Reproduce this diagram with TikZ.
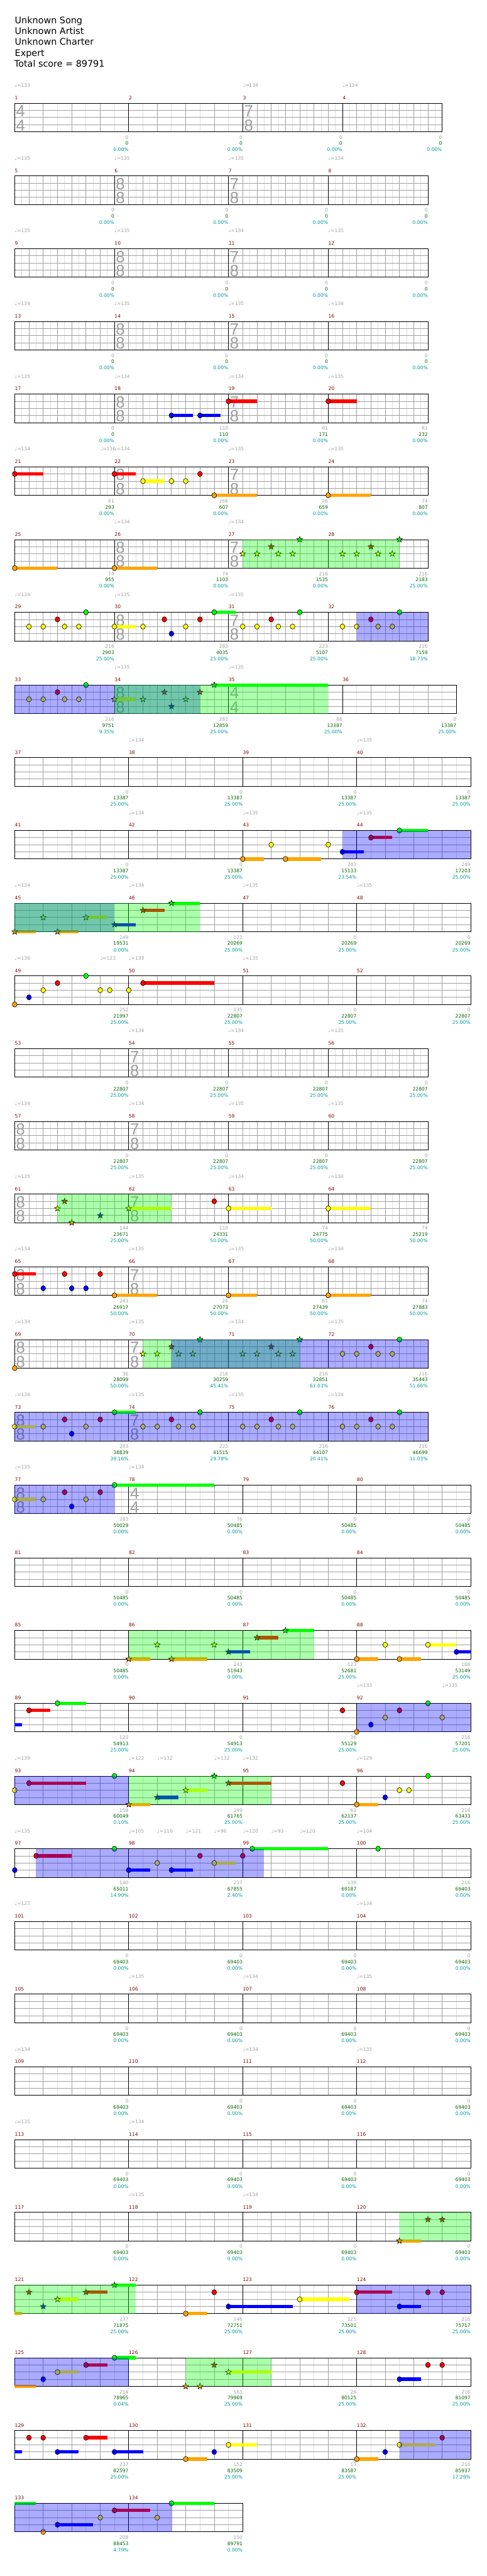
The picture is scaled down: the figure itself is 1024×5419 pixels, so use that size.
\documentclass[tikz,border=0pt]{standalone}
\usepackage{fontspec}
\setmainfont{DejaVu Sans}
\newfontfamily\sigfont{Liberation Sans}
\definecolor{numred}{RGB}{128,0,0}
\definecolor{scgray}{RGB}{160,160,160}
\definecolor{scgreen}{RGB}{0,100,0}
\definecolor{scteal}{RGB}{0,153,153}
\definecolor{gridgray}{RGB}{160,160,160}
\definecolor{gridlight}{RGB}{222,222,222}
\definecolor{gnote}{RGB}{0,255,0}
\definecolor{rnote}{RGB}{255,0,0}
\definecolor{ynote}{RGB}{255,255,0}
\definecolor{bnote}{RGB}{0,0,255}
\definecolor{onote}{RGB}{255,165,0}
\tikzset{
  gridsub/.style={draw=gridlight, line width=0.5pt},
  gridbeat/.style={draw=gridgray, line width=0.5pt},
  staffline/.style={draw=black, line width=0.5pt},
  mnum/.style={anchor=base west, inner sep=0pt, text=numred, font=\fontsize{5}{6}\selectfont},
  scoretxt/.style={anchor=base east, inner sep=0pt, font=\fontsize{5}{6}\selectfont},
  tempotxt/.style={anchor=base west, inner sep=0pt, text=scgray, font=\fontsize{5}{6}\selectfont},
  tsnum/.style={inner sep=0pt, text=gridgray, font=\sigfont\fontsize{17}{17}\selectfont},
  titletxt/.style={anchor=base west, inner sep=0pt, font=\fontsize{9.5}{10}\selectfont},
  gemline/.style={draw=black, line width=0.4pt},
  spgreen/.style={fill=green, fill opacity=0.33},
  spblue/.style={fill=blue, fill opacity=0.33}
}
% one measure: x, width, beat, number, score, total, percent
\newcommand\msr[7]{%
  \pgfmathtruncatemacro\nb{#2/#3}\pgfmathtruncatemacro\nbm{\nb-1}%
  \foreach \j in {1,...,\nb} \draw[gridsub] ({#1+(\j-0.5)*#3},\Y) -- ++(0,60);
  \foreach \j in {1,...,\nbm} \draw[gridbeat] ({#1+\j*#3},\Y) -- ++(0,60);
  \foreach \k in {15,30,45} \draw[gridbeat] (#1,\Y+\k) -- ++(#2,0);
  \draw[staffline] (#1,\Y) rectangle ++(#2,60);
  \node[mnum] at (#1,\Y-7.5) {#4};
  \node[scoretxt, text=scgray] at (#1+#2,\Y+75.6) {#5};
  \node[scoretxt, text=scgreen] at (#1+#2,\Y+88.4) {#6};
  \node[scoretxt, text=scteal] at (#1+#2,\Y+101.7) {#7\%};
}
\newcommand\tsig[3]{\node[tsnum] at (#1+12.5,\Y+17) {#2};\node[tsnum] at (#1+12.5,\Y+46.5) {#3};}
\newcommand\bpm[2]{\node[tempotxt] at (#1,\Y-33.7) {♩=#2};}
% notes: x, lane (0 green .. 4 orange), colour
\newcommand\tailbar[4]{\fill[#4] (#1,\Y+15*#3-3.5) rectangle (#2,\Y+15*#3+3.5);}
\newcommand\gem[3]{\filldraw[gemline, fill=#3] (#1,\Y+15*#2) ellipse [x radius=5, y radius=5.5];}
\newcommand\gemsus[4]{\tailbar{#1}{#2}{#3}{#4}\gem{#1}{#3}{#4}}
\newcommand\spgem[3]{\filldraw[gemline, fill=#3] (#1,\Y+15*#2) +(270:6.5) -- +(306:2.7) -- +(342:6.5) -- +(18:2.7) -- +(54:6.5) -- +(90:2.7) -- +(126:6.5) -- +(162:2.7) -- +(198:6.5) -- +(234:2.7) -- cycle;}
\newcommand\spgemsus[4]{\tailbar{#1}{#2}{#3}{#4}\spgem{#1}{#3}{#4}}
\newcommand\spg[2]{\fill[spgreen] (#1,\Y) rectangle (#2,\Y+60);}
\newcommand\spb[2]{\fill[spblue] (#1,\Y) rectangle (#2,\Y+60);}
\begin{document}
\begin{tikzpicture}[x=0.5pt, y=-0.5pt]
\fill[white] (0,0) rectangle (1024,5419);
\useasboundingbox (0,0) rectangle (1024,5419);
\node[titletxt] at (31,49) {Unknown Song};
\node[titletxt] at (31,72) {Unknown Artist};
\node[titletxt] at (31,95) {Unknown Charter};
\node[titletxt] at (31,118) {Expert};
\node[titletxt] at (30,141) {Total score = 89791};

% row 1-4
\def\Y{217}
\msr{31}{240}{60}{1}{0}{0}{0.00}
\msr{271}{240}{60}{2}{0}{0}{0.00}
\msr{511}{210}{30}{3}{0}{0}{0.00}
\msr{721}{210}{30}{4}{0}{0}{0.00}
\tsig{31}{4}{4}\tsig{511}{7}{8}
\bpm{31}{133}\bpm{511}{134}\bpm{721}{134}

% row 5-8
\def\Y{370}
\msr{31}{210}{30}{5}{0}{0}{0.00}
\msr{241}{240}{30}{6}{0}{0}{0.00}
\msr{481}{210}{30}{7}{0}{0}{0.00}
\msr{691}{210}{30}{8}{0}{0}{0.00}
\tsig{241}{8}{8}\tsig{481}{7}{8}
\bpm{31}{135}\bpm{241}{135}\bpm{481}{135}\bpm{691}{134}

% row 9-12
\def\Y{523}
\msr{31}{210}{30}{9}{0}{0}{0.00}
\msr{241}{240}{30}{10}{0}{0}{0.00}
\msr{481}{210}{30}{11}{0}{0}{0.00}
\msr{691}{210}{30}{12}{0}{0}{0.00}
\tsig{241}{8}{8}\tsig{481}{7}{8}
\bpm{31}{135}\bpm{241}{135}\bpm{481}{134}\bpm{691}{135}

% row 13-16
\def\Y{676}
\msr{31}{210}{30}{13}{0}{0}{0.00}
\msr{241}{240}{30}{14}{0}{0}{0.00}
\msr{481}{210}{30}{15}{0}{0}{0.00}
\msr{691}{210}{30}{16}{0}{0}{0.00}
\tsig{241}{8}{8}\tsig{481}{7}{8}
\bpm{31}{134}\bpm{241}{135}\bpm{481}{135}\bpm{691}{134}

% row 17-20
\def\Y{829}
\msr{31}{210}{30}{17}{0}{0}{0.00}
\msr{241}{240}{30}{18}{110}{110}{0.00}
\msr{481}{210}{30}{19}{61}{171}{0.00}
\msr{691}{210}{30}{20}{61}{232}{0.00}
\tsig{241}{8}{8}\tsig{481}{7}{8}
\bpm{31}{135}\bpm{241}{134}\bpm{481}{134}\bpm{691}{135}
\gemsus{361}{406}{3}{bnote}\gemsus{421}{465}{3}{bnote}
\gemsus{481}{541}{1}{rnote}\gemsus{691}{751}{1}{rnote}

% row 21-24
\def\Y{982}
\msr{31}{210}{30}{21}{61}{293}{0.00}
\msr{241}{240}{30}{22}{266}{607}{0.00}
\msr{481}{210}{30}{23}{26}{659}{0.00}
\msr{691}{210}{30}{24}{74}{807}{0.00}
\tsig{241}{8}{8}\tsig{481}{7}{8}
\bpm{31}{134}\bpm{211}{136}\bpm{241}{134}\bpm{481}{135}\bpm{691}{135}
\gemsus{31}{91}{1}{rnote}\gemsus{241}{286}{1}{rnote}
\gemsus{301}{346}{2}{ynote}\gem{361}{2}{ynote}\gem{391}{2}{ynote}\gem{421}{1}{rnote}
\gemsus{451}{541}{4}{onote}\gemsus{691}{781}{4}{onote}

% row 25-28
\def\Y{1135}
\msr{31}{210}{30}{25}{74}{955}{0.00}
\msr{241}{240}{30}{26}{74}{1103}{0.00}
\msr{481}{210}{30}{27}{216}{1535}{0.00}
\msr{691}{210}{30}{28}{216}{2183}{25.00}
\tsig{241}{8}{8}\tsig{481}{7}{8}
\bpm{241}{134}\bpm{481}{134}
\gemsus{31}{121}{4}{onote}\gemsus{241}{331}{4}{onote}
\spgem{511}{2}{ynote}\spgem{541}{2}{ynote}\spgem{571}{1}{rnote}\spgem{586}{2}{ynote}\spgem{616}{2}{ynote}\spgem{631}{0}{gnote}
\spgem{721}{2}{ynote}\spgem{751}{2}{ynote}\spgem{781}{1}{rnote}\spgem{796}{2}{ynote}\spgem{826}{2}{ynote}\spgem{841}{0}{gnote}
\spg{511}{841}

% row 29-32
\def\Y{1288}
\msr{31}{210}{30}{29}{216}{2903}{25.00}
\msr{241}{240}{30}{30}{283}{4035}{25.00}
\msr{481}{210}{30}{31}{223}{5107}{25.00}
\msr{691}{210}{30}{32}{216}{7159}{18.73}
\tsig{241}{8}{8}\tsig{481}{7}{8}
\bpm{31}{134}\bpm{241}{135}\bpm{481}{135}
\gem{61}{2}{ynote}\gem{91}{2}{ynote}\gem{121}{1}{rnote}\gem{136}{2}{ynote}\gem{166}{2}{ynote}\gem{181}{0}{gnote}
\gemsus{241}{286}{2}{ynote}\gem{301}{2}{ynote}\gem{346}{1}{rnote}\gem{361}{3}{bnote}\gem{391}{2}{ynote}\gem{421}{1}{rnote}\gemsus{451}{496}{0}{gnote}
\gem{511}{2}{ynote}\gem{541}{2}{ynote}\gem{571}{1}{rnote}\gem{586}{2}{ynote}\gem{616}{2}{ynote}\gem{631}{0}{gnote}
\gem{721}{2}{ynote}\gem{751}{2}{ynote}\gem{781}{1}{rnote}\gem{796}{2}{ynote}\gem{826}{2}{ynote}\gem{841}{0}{gnote}
\spb{751}{901}

% row 33-36
\def\Y{1441}
\msr{31}{210}{30}{33}{216}{9751}{9.35}
\msr{241}{240}{30}{34}{283}{12859}{25.00}
\msr{481}{240}{60}{35}{88}{13387}{25.00}
\msr{721}{240}{60}{36}{0}{13387}{25.00}
\tsig{241}{8}{8}\tsig{481}{4}{4}
\bpm{241}{135}\bpm{481}{135}
\gem{61}{2}{ynote}\gem{91}{2}{ynote}\gem{121}{1}{rnote}\gem{136}{2}{ynote}\gem{166}{2}{ynote}\gem{181}{0}{gnote}
\spgemsus{241}{286}{2}{ynote}\spgem{301}{2}{ynote}\spgem{346}{1}{rnote}\spgem{361}{3}{bnote}\spgem{391}{2}{ynote}\spgem{421}{1}{rnote}\spgemsus{451}{691}{0}{gnote}
\spb{31}{421}\spg{241}{691}

% row 37-40
\def\Y{1594}
\msr{31}{240}{60}{37}{0}{13387}{25.00}
\msr{271}{240}{60}{38}{0}{13387}{25.00}
\msr{511}{240}{60}{39}{0}{13387}{25.00}
\msr{751}{240}{60}{40}{0}{13387}{25.00}
\bpm{271}{134}\bpm{751}{135}

% row 41-44
\def\Y{1747}
\msr{31}{240}{60}{41}{0}{13387}{25.00}
\msr{271}{240}{60}{42}{0}{13387}{25.00}
\msr{511}{240}{60}{43}{243}{15133}{23.54}
\msr{751}{240}{60}{44}{249}{17203}{25.00}
\bpm{271}{134}\bpm{511}{135}\bpm{751}{135}
\gemsus{511}{556}{4}{onote}\gem{571}{2}{ynote}\gemsus{601}{676}{4}{onote}\gem{691}{2}{ynote}
\gemsus{721}{766}{3}{bnote}\gemsus{781}{826}{1}{rnote}\gemsus{841}{901}{0}{gnote}
\spb{721}{991}

% row 45-48
\def\Y{1900}
\msr{31}{240}{60}{45}{249}{19531}{0.00}
\msr{271}{240}{60}{46}{123}{20269}{25.00}
\msr{511}{240}{60}{47}{0}{20269}{25.00}
\msr{751}{240}{60}{48}{0}{20269}{25.00}
\bpm{31}{134}\bpm{271}{134}\bpm{511}{135}\bpm{751}{135}
\spgemsus{31}{76}{4}{onote}\spgem{91}{2}{ynote}\spgemsus{121}{166}{4}{onote}\spgemsus{181}{226}{2}{ynote}
\spgemsus{241}{286}{3}{bnote}\spgemsus{301}{346}{1}{rnote}\spgemsus{361}{421}{0}{gnote}
\spb{31}{241}\spg{31}{421}

% row 49-52
\def\Y{2053}
\msr{31}{240}{60}{49}{252}{21997}{25.00}
\msr{271}{240}{60}{50}{135}{22807}{25.00}
\msr{511}{240}{60}{51}{0}{22807}{25.00}
\msr{751}{240}{60}{52}{0}{22807}{25.00}
\bpm{31}{136}\bpm{211}{123}\bpm{271}{133}\bpm{511}{135}
\gem{31}{4}{onote}\gem{61}{3}{bnote}\gem{91}{2}{ynote}\gem{121}{1}{rnote}\gem{181}{0}{gnote}
\gem{211}{2}{ynote}\gem{231}{2}{ynote}\gem{271}{2}{ynote}\gemsus{301}{451}{1}{rnote}

% row 53-56
\def\Y{2206}
\msr{31}{240}{60}{53}{0}{22807}{25.00}
\msr{271}{210}{30}{54}{0}{22807}{25.00}
\msr{481}{210}{30}{55}{0}{22807}{25.00}
\msr{691}{210}{30}{56}{0}{22807}{25.00}
\tsig{271}{7}{8}
\bpm{271}{134}\bpm{481}{134}\bpm{691}{135}

% row 57-60
\def\Y{2359}
\msr{31}{240}{30}{57}{0}{22807}{25.00}
\msr{271}{210}{30}{58}{0}{22807}{25.00}
\msr{481}{210}{30}{59}{0}{22807}{25.00}
\msr{691}{210}{30}{60}{0}{22807}{25.00}
\tsig{31}{8}{8}\tsig{271}{7}{8}
\bpm{31}{134}\bpm{271}{134}\bpm{481}{135}\bpm{691}{135}

% row 61-64
\def\Y{2512}
\msr{31}{240}{30}{61}{144}{23671}{25.00}
\msr{271}{210}{30}{62}{110}{24331}{50.00}
\msr{481}{210}{30}{63}{74}{24775}{50.00}
\msr{691}{210}{30}{64}{74}{25219}{50.00}
\tsig{31}{8}{8}\tsig{271}{7}{8}
\bpm{31}{135}\bpm{271}{135}\bpm{481}{134}\bpm{691}{134}
\spgem{121}{2}{ynote}\spgem{136}{1}{rnote}\spgem{151}{4}{onote}\spgem{211}{3}{bnote}\spgemsus{271}{361}{2}{ynote}
\gem{451}{1}{rnote}\gemsus{481}{571}{2}{ynote}\gemsus{691}{781}{2}{ynote}
\spg{121}{361}

% row 65-68
\def\Y{2665}
\msr{31}{240}{30}{65}{283}{26917}{50.00}
\msr{271}{210}{30}{66}{26}{27073}{50.00}
\msr{481}{210}{30}{67}{61}{27439}{50.00}
\msr{691}{210}{30}{68}{74}{27883}{50.00}
\tsig{31}{8}{8}\tsig{271}{7}{8}
\bpm{31}{134}\bpm{271}{135}\bpm{481}{135}\bpm{691}{134}
\gemsus{31}{76}{1}{rnote}\gem{91}{3}{bnote}\gem{136}{1}{rnote}\gem{151}{3}{bnote}\gem{181}{3}{bnote}\gem{211}{1}{rnote}
\gemsus{241}{331}{4}{onote}\gemsus{481}{541}{4}{onote}\gemsus{691}{781}{4}{onote}

% row 69-72
\def\Y{2818}
\msr{31}{240}{30}{69}{36}{28099}{50.00}
\msr{271}{210}{30}{70}{216}{30259}{45.41}
\msr{481}{210}{30}{71}{216}{32851}{61.03}
\msr{691}{210}{30}{72}{216}{35443}{51.66}
\tsig{31}{8}{8}\tsig{271}{7}{8}
\bpm{31}{134}\bpm{271}{135}\bpm{481}{134}\bpm{691}{135}
\gem{31}{4}{onote}
\spgem{301}{2}{ynote}\spgem{331}{2}{ynote}\spgem{361}{1}{rnote}\spgem{376}{2}{ynote}\spgem{406}{2}{ynote}\spgem{421}{0}{gnote}
\spgem{511}{2}{ynote}\spgem{541}{2}{ynote}\spgem{571}{1}{rnote}\spgem{586}{2}{ynote}\spgem{616}{2}{ynote}\spgem{631}{0}{gnote}
\gem{721}{2}{ynote}\gem{751}{2}{ynote}\gem{781}{1}{rnote}\gem{796}{2}{ynote}\gem{826}{2}{ynote}\gem{841}{0}{gnote}
\spg{301}{631}\spb{361}{901}

% row 73-76
\def\Y{2971}
\msr{31}{240}{30}{73}{283}{38839}{39.16}
\msr{271}{210}{30}{74}{223}{41515}{29.78}
\msr{481}{210}{30}{75}{216}{44107}{20.41}
\msr{691}{210}{30}{76}{216}{46699}{11.03}
\tsig{31}{8}{8}\tsig{271}{7}{8}
\bpm{31}{134}\bpm{271}{135}\bpm{481}{135}\bpm{691}{134}
\gemsus{31}{76}{2}{ynote}\gem{91}{2}{ynote}\gem{136}{1}{rnote}\gem{151}{3}{bnote}\gem{181}{2}{ynote}\gem{211}{1}{rnote}\gemsus{241}{286}{0}{gnote}
\gem{301}{2}{ynote}\gem{331}{2}{ynote}\gem{361}{1}{rnote}\gem{376}{2}{ynote}\gem{406}{2}{ynote}\gem{421}{0}{gnote}
\gem{511}{2}{ynote}\gem{541}{2}{ynote}\gem{571}{1}{rnote}\gem{586}{2}{ynote}\gem{616}{2}{ynote}\gem{631}{0}{gnote}
\gem{721}{2}{ynote}\gem{751}{2}{ynote}\gem{781}{1}{rnote}\gem{796}{2}{ynote}\gem{826}{2}{ynote}\gem{841}{0}{gnote}
\spb{31}{901}

% row 77-80
\def\Y{3124}
\msr{31}{240}{30}{77}{283}{50029}{0.00}
\msr{271}{240}{60}{78}{76}{50485}{0.00}
\msr{511}{240}{60}{79}{0}{50485}{0.00}
\msr{751}{240}{60}{80}{0}{50485}{0.00}
\tsig{31}{8}{8}\tsig{271}{4}{4}
\bpm{31}{135}\bpm{271}{134}
\gemsus{31}{76}{2}{ynote}\gem{91}{2}{ynote}\gem{136}{1}{rnote}\gem{151}{3}{bnote}\gem{181}{2}{ynote}\gem{211}{1}{rnote}\gemsus{241}{451}{0}{gnote}
\spb{31}{241}

% row 81-84
\def\Y{3277}
\msr{31}{240}{60}{81}{0}{50485}{0.00}
\msr{271}{240}{60}{82}{0}{50485}{0.00}
\msr{511}{240}{60}{83}{0}{50485}{0.00}
\msr{751}{240}{60}{84}{0}{50485}{0.00}

% row 85-88
\def\Y{3430}
\msr{31}{240}{60}{85}{0}{50485}{0.00}
\msr{271}{240}{60}{86}{243}{51943}{0.00}
\msr{511}{240}{60}{87}{123}{52681}{25.00}
\msr{751}{240}{60}{88}{168}{53149}{25.00}
\spgemsus{271}{316}{4}{onote}\spgem{331}{2}{ynote}\spgemsus{361}{436}{4}{onote}\spgem{451}{2}{ynote}
\spgemsus{481}{526}{3}{bnote}\spgemsus{541}{586}{1}{rnote}\spgemsus{601}{661}{0}{gnote}
\gemsus{751}{796}{4}{onote}\gem{811}{2}{ynote}\gemsus{841}{886}{4}{onote}\gemsus{901}{961}{2}{ynote}\gemsus{961}{991}{3}{bnote}
\spg{271}{661}

% row 89-92
\def\Y{3583}
\msr{31}{240}{60}{89}{123}{54913}{25.00}
\msr{271}{240}{60}{90}{0}{54913}{25.00}
\msr{511}{240}{60}{91}{36}{55129}{25.00}
\msr{751}{240}{60}{92}{216}{57201}{25.00}
\bpm{751}{133}\bpm{931}{135}
\tailbar{31}{46}{3}{bnote}\gemsus{61}{106}{1}{rnote}\gemsus{121}{181}{0}{gnote}\gem{721}{1}{rnote}
\gem{751}{4}{onote}\gem{781}{3}{bnote}\gem{811}{2}{ynote}\gem{841}{1}{rnote}\gem{901}{0}{gnote}\gem{931}{2}{ynote}
\spb{751}{991}

% row 93-96
\def\Y{3736}
\msr{31}{240}{60}{93}{158}{60049}{0.10}
\msr{271}{240}{60}{94}{249}{61765}{25.00}
\msr{511}{240}{60}{95}{62}{62137}{25.00}
\msr{751}{240}{60}{96}{216}{63433}{25.00}
\bpm{31}{139}\bpm{271}{122}\bpm{331}{132}\bpm{451}{132}\bpm{511}{132}\bpm{751}{129}
\gem{31}{2}{ynote}\gemsus{61}{181}{1}{rnote}\gem{241}{0}{gnote}
\spgemsus{271}{316}{4}{onote}\spgemsus{331}{376}{3}{bnote}\spgemsus{391}{436}{2}{ynote}\spgem{451}{0}{gnote}\spgemsus{481}{571}{1}{rnote}
\gem{721}{1}{rnote}\gemsus{751}{796}{4}{onote}\gem{811}{3}{bnote}\gem{841}{2}{ynote}\gem{861}{2}{ynote}\gem{901}{0}{gnote}
\spb{31}{271}\spg{271}{571}

% row 97-100
\def\Y{3889}
\msr{31}{240}{60}{97}{140}{65011}{14.90}
\msr{271}{240}{60}{98}{237}{67855}{2.40}
\msr{511}{240}{60}{99}{139}{69187}{0.00}
\msr{751}{240}{60}{100}{216}{69403}{0.00}
\bpm{31}{135}\bpm{271}{105}\bpm{331}{110}\bpm{391}{121}\bpm{451}{96}\bpm{511}{120}\bpm{571}{93}\bpm{631}{120}\bpm{751}{104}
\gem{31}{3}{bnote}\gemsus{76}{151}{1}{rnote}\gem{241}{0}{gnote}\gemsus{271}{316}{3}{bnote}\gem{331}{2}{ynote}
\gemsus{361}{406}{3}{bnote}\gem{421}{1}{rnote}\gemsus{451}{496}{2}{ynote}\gem{511}{1}{rnote}\gemsus{531}{691}{0}{gnote}\gem{796}{0}{gnote}
\spb{76}{556}

% row 101-104
\def\Y{4042}
\msr{31}{240}{60}{101}{0}{69403}{0.00}
\msr{271}{240}{60}{102}{0}{69403}{0.00}
\msr{511}{240}{60}{103}{0}{69403}{0.00}
\msr{751}{240}{60}{104}{0}{69403}{0.00}
\bpm{31}{127}\bpm{751}{134}

% row 105-108
\def\Y{4195}
\msr{31}{240}{60}{105}{0}{69403}{0.00}
\msr{271}{240}{60}{106}{0}{69403}{0.00}
\msr{511}{240}{60}{107}{0}{69403}{0.00}
\msr{751}{240}{60}{108}{0}{69403}{0.00}
\bpm{271}{135}\bpm{511}{134}\bpm{751}{135}

% row 109-112
\def\Y{4348}
\msr{31}{240}{60}{109}{0}{69403}{0.00}
\msr{271}{240}{60}{110}{0}{69403}{0.00}
\msr{511}{240}{60}{111}{0}{69403}{0.00}
\msr{751}{240}{60}{112}{0}{69403}{0.00}
\bpm{31}{134}\bpm{511}{134}\bpm{751}{135}

% row 113-116
\def\Y{4501}
\msr{31}{240}{60}{113}{0}{69403}{0.00}
\msr{271}{240}{60}{114}{0}{69403}{0.00}
\msr{511}{240}{60}{115}{0}{69403}{0.00}
\msr{751}{240}{60}{116}{0}{69403}{0.00}
\bpm{31}{135}\bpm{271}{134}

% row 117-120
\def\Y{4654}
\msr{31}{240}{60}{117}{0}{69403}{0.00}
\msr{271}{240}{60}{118}{0}{69403}{0.00}
\msr{511}{240}{60}{119}{0}{69403}{0.00}
\msr{751}{240}{60}{120}{0}{69403}{0.00}
\bpm{271}{135}\bpm{511}{134}
\spgemsus{841}{886}{4}{onote}\spgem{901}{1}{rnote}\spgem{931}{1}{rnote}
\spg{841}{991}

% row 121-124
\def\Y{4807}
\msr{31}{240}{60}{121}{237}{71875}{25.00}
\msr{271}{240}{60}{122}{146}{72751}{25.00}
\msr{511}{240}{60}{123}{125}{73501}{25.00}
\msr{751}{240}{60}{124}{216}{75717}{25.00}
\tailbar{31}{46}{4}{onote}\spgem{61}{1}{rnote}\spgem{91}{3}{bnote}\spgemsus{121}{166}{2}{ynote}\spgemsus{181}{226}{1}{rnote}\spgemsus{241}{286}{0}{gnote}
\gemsus{391}{436}{4}{onote}\gem{451}{1}{rnote}\gemsus{481}{616}{3}{bnote}\gemsus{631}{736}{2}{ynote}
\gemsus{751}{826}{1}{rnote}\gemsus{841}{886}{3}{bnote}\gem{901}{1}{rnote}\gem{931}{1}{rnote}
\spg{31}{286}\spb{751}{991}

% row 125-128
\def\Y{4960}
\msr{31}{240}{60}{125}{214}{78965}{0.04}
\msr{271}{240}{60}{126}{163}{79969}{25.00}
\msr{511}{240}{60}{127}{26}{80125}{25.00}
\msr{751}{240}{60}{128}{216}{81097}{25.00}
\tailbar{31}{76}{4}{onote}\gem{91}{3}{bnote}\gemsus{121}{166}{2}{ynote}\gemsus{181}{226}{1}{rnote}\gemsus{241}{286}{0}{gnote}
\spgem{391}{4}{onote}\spgem{421}{4}{onote}\spgem{451}{1}{rnote}\spgemsus{481}{571}{2}{ynote}
\gemsus{841}{886}{3}{bnote}\gem{901}{1}{rnote}\gem{931}{1}{rnote}
\spb{31}{271}\spg{391}{571}

% row 129-132
\def\Y{5113}
\msr{31}{240}{60}{129}{237}{82597}{25.00}
\msr{271}{240}{60}{130}{152}{83509}{25.00}
\msr{511}{240}{60}{131}{13}{83587}{25.00}
\msr{751}{240}{60}{132}{216}{85937}{17.29}
\tailbar{31}{46}{3}{bnote}\gem{61}{1}{rnote}\gem{91}{1}{rnote}\gemsus{121}{166}{3}{bnote}\gemsus{181}{226}{1}{rnote}\gemsus{241}{301}{3}{bnote}
\gemsus{391}{436}{4}{onote}\gem{451}{3}{bnote}\gemsus{481}{541}{2}{ynote}
\gemsus{751}{796}{4}{onote}\gem{811}{3}{bnote}\gemsus{841}{916}{2}{ynote}\gem{931}{1}{rnote}
\spb{841}{991}

% row 133-134
\def\Y{5266}
\msr{31}{240}{60}{133}{208}{88453}{4.79}
\msr{271}{240}{60}{134}{130}{89791}{0.00}
\tailbar{31}{76}{0}{gnote}\gem{91}{4}{onote}\gemsus{121}{196}{3}{bnote}\gem{211}{2}{ynote}
\gemsus{241}{316}{1}{rnote}\gem{331}{2}{ynote}\gemsus{361}{451}{0}{gnote}
\spb{31}{362}
\end{tikzpicture}
\end{document}
